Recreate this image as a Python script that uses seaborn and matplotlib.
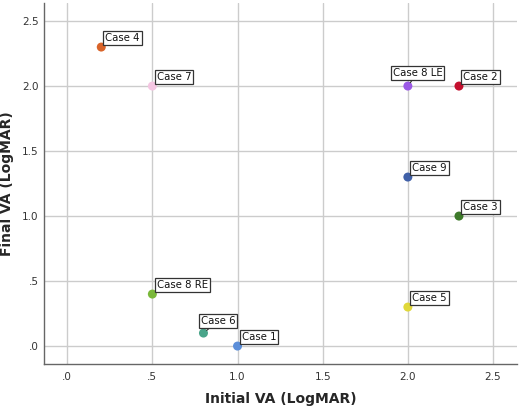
import seaborn as sns
import pandas as pd
import matplotlib.pyplot as plt

cases = ["Case 1", "Case 2", "Case 3", "Case 4", "Case 5", "Case 6",
         "Case 7", "Case 8 LE", "Case 8 RE", "Case 9"]
initial_va = [1.0, 2.3, 2.3, 0.2, 2.0, 0.8, 0.5, 2.0, 0.5, 2.0]
final_va = [0.0, 2.0, 1.0, 2.3, 0.3, 0.1, 2.0, 2.0, 0.4, 1.3]
colors = ["#5b8ed9", "#c4102e", "#3e7a2a", "#d9642a", "#e0d83a",
          "#4aa58a", "#f4c6e2", "#9b59e6", "#7ab83a", "#4060a8"]
tick_vals = [0.0, 0.5, 1.0, 1.5, 2.0, 2.5]
tick_labels = [".0", ".5", "1.0", "1.5", "2.0", "2.5"]

df = pd.DataFrame({"Case": cases, "Initial": initial_va, "Final": final_va})

sns.set_style("white")
plt.rcParams['font.family'] = ['DejaVu Sans']

fig = plt.figure(figsize=(5.2, 4.09), dpi=100)
ax = fig.add_axes([0.085, 0.11, 0.909, 0.883])
ax.grid(True, color="#cccccc", linewidth=1)
ax.set_axisbelow(True)

sns.scatterplot(data=df, x="Initial", y="Final", hue="Case", palette=colors,
                s=42, edgecolor="none", legend=False, ax=ax, zorder=3)

# label offsets in points (dx, dy) and whether a leader line is drawn
offsets = {"Case 8 LE": (-11, 6), "Case 6": (-2, 5)}
leaders = {"Case 8 LE", "Case 6"}
for name, x, y in zip(cases, initial_va, final_va):
    dx, dy = offsets.get(name, (3, 3))
    ax.annotate(name, (x, y), xytext=(dx, dy), textcoords="offset points",
                ha="left", va="bottom", fontsize=7.3, color="#111111", zorder=4,
                bbox=dict(boxstyle="square,pad=0.2", fc="white", ec="#333333", lw=0.9),
                arrowprops=dict(arrowstyle="-", color="#333333", lw=0.8,
                                shrinkA=0, shrinkB=3) if name in leaders else None)

ax.set_xlim(-0.135, 2.64)
ax.set_ylim(-0.138, 2.64)
ax.set_xticks(tick_vals)
ax.set_xticklabels(tick_labels)
ax.set_yticks(tick_vals)
ax.set_yticklabels(tick_labels)
ax.tick_params(labelsize=7.5, colors="#333333", length=0)
ax.tick_params(axis="x", pad=6)
ax.tick_params(axis="y", pad=4)

for side in ["top", "right"]:
    ax.spines[side].set_visible(False)
for side in ["left", "bottom"]:
    ax.spines[side].set_color("#666666")
    ax.spines[side].set_linewidth(1)

ax.set_xlabel("Initial VA (LogMAR)", fontsize=10, fontweight="bold", labelpad=7)
ax.set_ylabel("Final VA (LogMAR)", fontsize=10, fontweight="bold", labelpad=6)

fig.savefig("out.png", dpi=100)
